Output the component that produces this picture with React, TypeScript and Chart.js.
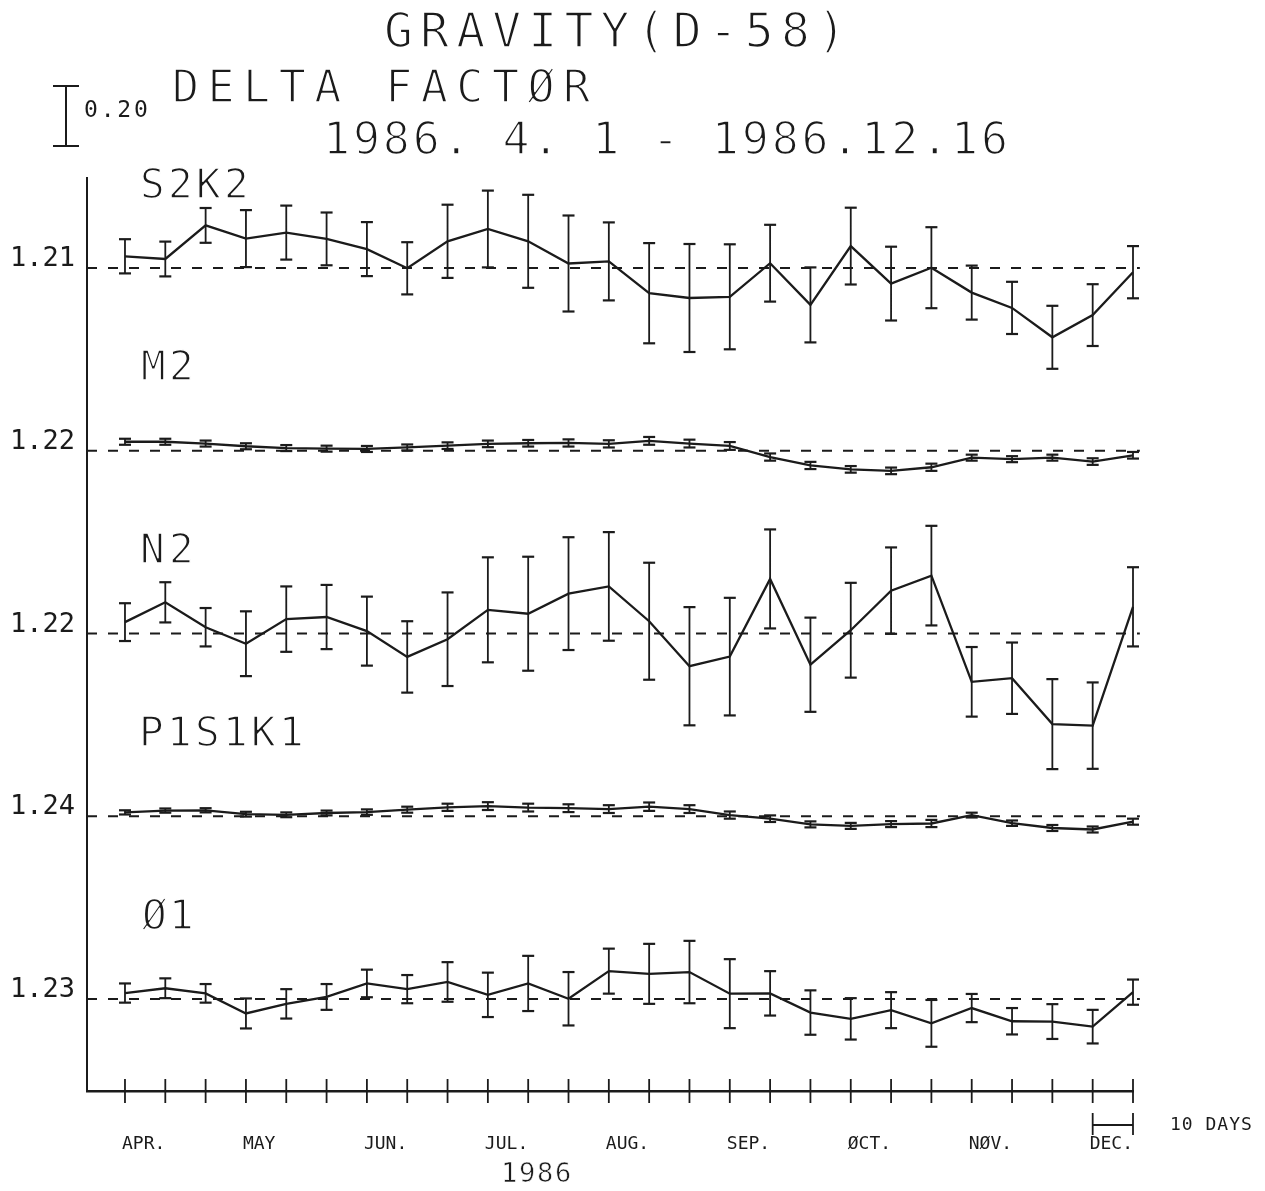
import { useEffect, useRef } from 'react';
import { Chart, registerables } from 'chart.js';

Chart.register(...registerables);

// ---------- data ----------
const X_STEPS = [0, 1, 2, 3, 4, 5, 6, 7, 8, 9, 10, 11, 12, 13, 14, 15, 16, 17, 18, 19, 20, 21, 22, 23, 24, 25];
const MONTH_STEPS = [0, 3, 6, 9, 12, 15, 18, 21, 24];
const MONTH_LABELS = ['APR.', 'MAY', 'JUN.', 'JUL.', 'AUG.', 'SEP.', 'ØCT.', 'NØV.', 'DEC.'];

const PANEL_NAMES = ['S2K2', 'M2', 'N2', 'P1S1K1', 'Ø1'];
const REF_VALUES = [1.21, 1.22, 1.22, 1.24, 1.23];
const REF_LABELS = ['1.21', '1.22', '1.22', '1.24', '1.23'];

const S2K2_VALUES = [1.249, 1.240, 1.352, 1.308, 1.328, 1.307, 1.273, 1.209, 1.299, 1.340, 1.299, 1.225, 1.232, 1.126, 1.110, 1.114, 1.226, 1.087, 1.283, 1.158, 1.211, 1.128, 1.077, 0.979, 1.053, 1.196];
const S2K2_ERRORS = [0.057, 0.058, 0.058, 0.095, 0.090, 0.088, 0.090, 0.087, 0.122, 0.128, 0.155, 0.160, 0.130, 0.167, 0.180, 0.175, 0.128, 0.125, 0.128, 0.123, 0.135, 0.090, 0.087, 0.105, 0.103, 0.087];

const M2_VALUES = [1.250, 1.250, 1.244, 1.235, 1.229, 1.227, 1.226, 1.231, 1.237, 1.243, 1.245, 1.246, 1.243, 1.253, 1.244, 1.236, 1.199, 1.171, 1.158, 1.153, 1.165, 1.197, 1.192, 1.197, 1.184, 1.205];
const M2_ERRORS = [0.010, 0.010, 0.010, 0.010, 0.010, 0.010, 0.010, 0.010, 0.011, 0.011, 0.011, 0.012, 0.012, 0.013, 0.013, 0.013, 0.012, 0.012, 0.011, 0.011, 0.012, 0.010, 0.010, 0.010, 0.011, 0.011];

const N2_VALUES = [1.258, 1.324, 1.241, 1.186, 1.268, 1.275, 1.228, 1.142, 1.201, 1.299, 1.286, 1.353, 1.377, 1.261, 1.111, 1.143, 1.402, 1.116, 1.231, 1.363, 1.413, 1.059, 1.071, 0.918, 0.913, 1.309];
const N2_ERRORS = [0.063, 0.067, 0.064, 0.108, 0.109, 0.107, 0.115, 0.119, 0.156, 0.175, 0.190, 0.188, 0.181, 0.195, 0.197, 0.196, 0.165, 0.157, 0.158, 0.144, 0.166, 0.116, 0.119, 0.150, 0.144, 0.132];

const P1S1K1_VALUES = [1.253, 1.259, 1.260, 1.247, 1.245, 1.251, 1.254, 1.262, 1.270, 1.274, 1.269, 1.267, 1.264, 1.272, 1.264, 1.244, 1.232, 1.213, 1.208, 1.214, 1.216, 1.244, 1.217, 1.201, 1.196, 1.222];
const P1S1K1_ERRORS = [0.007, 0.007, 0.007, 0.008, 0.008, 0.008, 0.009, 0.010, 0.012, 0.013, 0.013, 0.013, 0.013, 0.014, 0.013, 0.012, 0.011, 0.010, 0.010, 0.010, 0.012, 0.008, 0.009, 0.010, 0.010, 0.010];

const O1_VALUES = [1.250, 1.266, 1.249, 1.182, 1.214, 1.237, 1.282, 1.263, 1.287, 1.244, 1.282, 1.231, 1.323, 1.314, 1.320, 1.248, 1.249, 1.185, 1.164, 1.193, 1.149, 1.200, 1.156, 1.155, 1.138, 1.253];
const O1_ERRORS = [0.032, 0.033, 0.031, 0.050, 0.049, 0.043, 0.046, 0.047, 0.066, 0.074, 0.092, 0.089, 0.075, 0.100, 0.104, 0.115, 0.074, 0.074, 0.069, 0.060, 0.078, 0.047, 0.044, 0.058, 0.056, 0.042];

const SERIES = [
  { values: S2K2_VALUES, errors: S2K2_ERRORS },
  { values: M2_VALUES, errors: M2_ERRORS },
  { values: N2_VALUES, errors: N2_ERRORS },
  { values: P1S1K1_VALUES, errors: P1S1K1_ERRORS },
  { values: O1_VALUES, errors: O1_ERRORS },
];

const SCALE_BAR = 0.2;
const SCALE_BAR_LABEL = '0.20';
const TITLE_1 = 'GRAVITY(D-58)';
const TITLE_2 = 'DELTA FACTØR';
const TITLE_3 = '1986. 4. 1 - 1986.12.16';
const YEAR_LABEL = '1986';
const STEP_LABEL = '10 DAYS';

// ---------- layout ----------
const W = 1265;
const H = 1191;
const PANEL_GAP = 0.6092;
const Y_MAX = 0.3;
const Y_MIN = -2.7433;
const X_MIN = -0.942;
const X_MAX = 25;
const DASH_END = 25.17;
const INK = '#1b1b1b';
const MONO = '"DejaVu Sans Mono", "Liberation Mono", monospace';

function fitText(
  ctx: CanvasRenderingContext2D,
  text: string,
  inkLeft: number,
  baseline: number,
  size: number,
  inkWidth: number,
  erode: number
) {
  ctx.font = `${size}px ${MONO}`;
  (ctx as any).letterSpacing = '0px';
  const m = ctx.measureText(text);
  const w0 = m.actualBoundingBoxLeft + m.actualBoundingBoxRight;
  const s = text.length > 1 ? (inkWidth - w0) / (text.length - 1) : 0;
  (ctx as any).letterSpacing = `${s}px`;
  const x = inkLeft + m.actualBoundingBoxLeft;
  ctx.fillStyle = INK;
  ctx.fillText(text, x, baseline);
  if (erode > 0) {
    ctx.strokeStyle = '#ffffff';
    ctx.lineWidth = erode;
    ctx.lineJoin = 'round';
    ctx.strokeText(text, x, baseline);
  }
  (ctx as any).letterSpacing = '0px';
}

function seg(ctx: CanvasRenderingContext2D, x1: number, y1: number, x2: number, y2: number) {
  ctx.beginPath();
  ctx.moveTo(x1, y1);
  ctx.lineTo(x2, y2);
  ctx.stroke();
}

const decorPlugin = {
  id: 'decor',
  afterDraw(chart: any) {
    const { ctx, chartArea, scales } = chart;
    const xs = scales.x;
    const ys = scales.y;
    ctx.save();
    ctx.strokeStyle = INK;
    ctx.lineCap = 'butt';

    // x tick marks crossing the axis
    const ay = chartArea.bottom;
    ctx.lineWidth = 1.8;
    X_STEPS.forEach((i) => {
      const px = xs.getPixelForValue(i);
      seg(ctx, px, ay - 12, px, ay + 12);
    });

    // 10-day bracket
    const p0 = xs.getPixelForValue(24);
    const p1 = xs.getPixelForValue(25);
    ctx.strokeStyle = INK;
    ctx.lineWidth = 1.8;
    seg(ctx, p0, ay + 22, p0, ay + 44);
    seg(ctx, p1, ay + 22, p1, ay + 44);
    ctx.lineWidth = 2.2;
    seg(ctx, p0, ay + 34, p1, ay + 34);
    fitText(ctx, STEP_LABEL, 1172, ay + 39, 18, 79, 0);

    // scale bar (0.20)
    const barLen = ys.getPixelForValue(0) - ys.getPixelForValue(SCALE_BAR);
    const bx = 66;
    const bt = 86;
    ctx.strokeStyle = INK;
    ctx.lineWidth = 2;
    seg(ctx, bx, bt, bx, bt + barLen);
    seg(ctx, bx - 13, bt, bx + 13, bt);
    seg(ctx, bx - 13, bt + barLen, bx + 13, bt + barLen);
    fitText(ctx, SCALE_BAR_LABEL, 85, 117, 23, 62, 0);

    // titles
    fitText(ctx, TITLE_1, 386, 47, 48, 450, 1.6);
    fitText(ctx, TITLE_2, 175, 102, 45, 416, 1.6);
    fitText(ctx, TITLE_3, 328, 154, 45, 678, 1.6);

    // panel names
    PANEL_NAMES.forEach((name, k) => {
      const by = ys.getPixelForValue(-k * PANEL_GAP) - 70.5;
      fitText(ctx, name, 142, by, 41, name.length * 27.5 - 6, 1.4);
    });

    // year
    fitText(ctx, YEAR_LABEL, 504, 1182, 27, 66, 0.6);

    ctx.restore();
  },
};

export default function App() {
  const ref = useRef<HTMLCanvasElement>(null);

  useEffect(() => {
    const canvas = ref.current;
    if (!canvas) return;
    const bases = REF_VALUES.map((_, k) => -k * PANEL_GAP);
    const datasets: any[] = [];

    SERIES.forEach((s, k) => {
      const b = bases[k];
      const r = REF_VALUES[k];
      datasets.push({
        label: `${PANEL_NAMES[k]} ref`,
        data: [
          { x: X_MIN, y: b },
          { x: DASH_END, y: b },
        ],
        borderColor: INK,
        borderWidth: 2,
        borderDash: [10, 11],
        pointRadius: 0,
        clip: false,
        order: 3,
      });
      const eb: any[] = [];
      s.values.forEach((v, i) => {
        eb.push({ x: X_STEPS[i], y: b + v - r - s.errors[i] });
        eb.push({ x: X_STEPS[i], y: b + v - r + s.errors[i] });
        eb.push({ x: X_STEPS[i], y: null });
      });
      datasets.push({
        label: `${PANEL_NAMES[k]} error`,
        data: eb,
        borderColor: INK,
        borderWidth: 1.8,
        pointStyle: 'line',
        pointRadius: 6,
        pointBorderWidth: 2.2,
        pointBorderColor: INK,
        spanGaps: false,
        clip: false,
        order: 2,
      });
      datasets.push({
        label: PANEL_NAMES[k],
        data: s.values.map((v, i) => ({ x: X_STEPS[i], y: b + v - r })),
        borderColor: INK,
        borderWidth: 2.3,
        pointRadius: 0,
        tension: 0,
        clip: false,
        order: 1,
      });
    });

    const chart = new Chart(canvas, {
      type: 'line',
      data: { datasets },
      options: {
        animation: false,
        responsive: false,
        events: [],
        layout: { padding: { top: 178, right: W - 1133, left: 0, bottom: 0 } },
        plugins: {
          legend: { display: false },
          tooltip: { enabled: false },
          title: { display: false },
        },
        scales: {
          x: {
            type: 'linear',
            min: X_MIN,
            max: X_MAX,
            afterFit: (s: any) => {
              s.height = 100;
            },
            afterBuildTicks: (s: any) => {
              s.ticks = MONTH_STEPS.map((v) => ({ value: v }));
            },
            ticks: {
              callback: (_v: any, i: number) => MONTH_LABELS[i],
              align: 'start',
              padding: 43,
              labelOffset: -3,
              autoSkip: false,
              maxRotation: 0,
              color: INK,
              font: { family: MONO, size: 18 },
            },
            grid: { display: false, drawTicks: false },
            border: { display: true, color: INK, width: 2.6 },
          },
          y: {
            type: 'linear',
            min: Y_MIN,
            max: Y_MAX,
            afterFit: (s: any) => {
              s.width = 87;
            },
            afterBuildTicks: (s: any) => {
              s.ticks = bases.map((v) => ({ value: v }));
            },
            ticks: {
              callback: (_v: any, i: number) => REF_LABELS[i],
              padding: 12,
              labelOffset: -9,
              autoSkip: false,
              color: INK,
              font: { family: MONO, size: 27 },
            },
            grid: { display: false, drawTicks: false },
            border: { display: true, color: INK, width: 2 },
          },
        },
      } as any,
      plugins: [decorPlugin],
    });

    return () => {
      chart.destroy();
    };
  }, []);

  return (
    <div style={{ position: 'absolute', left: 0, top: 0, width: W, height: H, background: '#ffffff' }}>
      <canvas ref={ref} width={W} height={H} style={{ width: W, height: H, display: 'block' }} />
    </div>
  );
}
